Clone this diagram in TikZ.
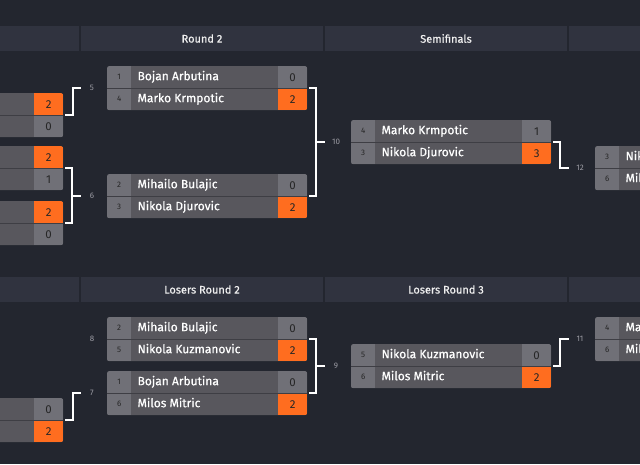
\documentclass[tikz,border=0pt]{standalone}
\usepackage{fontspec}
\setmainfont{Fira Sans}
\newfontfamily\namefont[FakeBold=0.6]{Fira Sans}
\usetikzlibrary{positioning}
\definecolor{bgcol}{HTML}{23262F}
\definecolor{headcol}{HTML}{30333F}
\definecolor{namecol}{HTML}{58575D}
\definecolor{seedcol}{HTML}{707077}
\definecolor{wincol}{HTML}{FF6D1F}
\definecolor{rulecol}{HTML}{3E3E44}
\definecolor{numcol}{HTML}{9C9CA4}
\tikzset{
    matchframe/.style={rectangle,fill=namecol,rounded corners=2.5pt,minimum width=200pt,minimum height=44pt,inner sep=0pt,anchor=north west},
    seedcell/.style={rectangle,fill=seedcol,minimum width=24pt,minimum height=22pt,inner sep=0pt,text=black!85,font=\fontsize{8}{8}\selectfont},
    namecell/.style={inner xsep=6pt,inner ysep=0pt,text height=8.5pt,text depth=2.5pt,text=white,font=\namefont\fontsize{12}{12}\selectfont},
    scorecell/.style={rectangle,fill=seedcol,minimum width=29pt,minimum height=22pt,inner sep=0pt,text=black!85,font=\fontsize{11.5}{11.5}\selectfont},
    wincell/.style={scorecell,fill=wincol},
    headcell/.style={rectangle,fill=headcol,minimum width=242pt,minimum height=25pt,inner sep=0pt,text=white!94!black,font=\namefont\fontsize{11}{11}\selectfont},
    bracket/.style={-,draw=white,line width=2pt},
    matchno/.style={inner sep=0pt,text=numcol,font=\fontsize{8}{8}\selectfont},
    rowline/.style={draw=rulecol,line width=1pt},
}
% \matchbox{name}{top left}{seed}{player}{score}{seed}{player}{score}{winning row}
\newcommand{\matchbox}[9]{%
    \ifnum#9=1 \tikzset{topscore/.style=wincell,botscore/.style=scorecell}%
    \else\ifnum#9=2 \tikzset{topscore/.style=scorecell,botscore/.style=wincell}%
    \else\tikzset{topscore/.style=scorecell,botscore/.style=scorecell}\fi\fi
    \node[matchframe] (#1) at (#2) {};
    \begin{scope}
        \clip[rounded corners=2.5pt] (#1.north west) rectangle (#1.south east);
        \node[seedcell,anchor=north west] (#1s1) at (#1.north west) {#3};
        \node[namecell,right=0pt of #1s1] (#1n1) {#4};
        \node[topscore,anchor=north east] (#1c1) at (#1.north east) {#5};
        \node[seedcell,anchor=south west] (#1s2) at (#1.south west) {#6};
        \node[namecell,right=0pt of #1s2] (#1n2) {#7};
        \node[botscore,anchor=south east] (#1c2) at (#1.south east) {#8};
        \draw[rowline] (#1.west) -- (#1.east);
    \end{scope}
}

\begin{document}
\begin{tikzpicture}[x=1pt,y=-1pt]
    \clip (0,0) rectangle (640,464);
    \fill[bgcol] (0,0) rectangle (640,464);

    % column headers
    \node[headcell] (h0) at (-42,38.5) {};
    \node[headcell] (h1) at (202,38.5) {Round 2};
    \node[headcell] (h2) at (446,38.5) {Semifinals};
    \node[headcell] (h3) at (690,38.5) {};
    \node[headcell] (g0) at (-42,289.5) {};
    \node[headcell] (g1) at (202,289.5) {Losers Round 2};
    \node[headcell] (g2) at (446,289.5) {Losers Round 3};
    \node[headcell] (g3) at (690,289.5) {};

    % winners bracket
    \matchbox{L1}{-137,93}{}{}{2}{}{}{0}{1}
    \matchbox{L2}{-137,146}{}{}{2}{}{}{1}{1}
    \matchbox{L3}{-137,201}{}{}{2}{}{}{0}{1}
    \matchbox{m5}{107,66}{1}{Bojan Arbutina}{0}{4}{Marko Krmpotic}{2}{2}
    \matchbox{m6}{107,174}{2}{Mihailo Bulajic}{0}{3}{Nikola Djurovic}{2}{2}
    \matchbox{m10}{351,120}{4}{Marko Krmpotic}{1}{3}{Nikola Djurovic}{3}{2}
    \matchbox{m12}{595,146}{3}{Nikola Djurovic}{}{6}{Milos Mitric}{}{0}

    % losers bracket
    \matchbox{L4}{-137,398}{}{}{0}{}{}{2}{2}
    \matchbox{m8}{107,317}{2}{Mihailo Bulajic}{0}{5}{Nikola Kuzmanovic}{2}{2}
    \matchbox{m7}{107,371}{1}{Bojan Arbutina}{0}{6}{Milos Mitric}{2}{2}
    \matchbox{m9}{351,344}{5}{Nikola Kuzmanovic}{0}{6}{Milos Mitric}{2}{2}
    \matchbox{m11}{595,317}{4}{Marko Krmpotic}{}{6}{Milos Mitric}{}{0}

    % match numbers
    \node[matchno] (n5) at ([xshift=-15pt]m5.west) {5};
    \node[matchno] (n6) at ([xshift=-15pt]m6.west) {6};
    \node[matchno] (n10) at ([xshift=-15pt]m10.west) {10};
    \node[matchno] (n12) at ([xshift=-15pt]m12.west) {12};
    \node[matchno] (n8) at ([xshift=-15pt]m8.west) {8};
    \node[matchno] (n7) at ([xshift=-15pt]m7.west) {7};
    \node[matchno] (n9) at ([xshift=-15pt]m9.west) {9};
    \node[matchno] (n11) at ([xshift=-15pt]m11.west) {11};

    % brackets
    \draw[bracket] ([xshift=2pt]L1.east) -- ++(8,0) |- ([xshift=-26pt]m5.west);
    \draw[bracket] ([xshift=2pt]L2.east) -- ++(7,0) coordinate (v6) |- ([xshift=2pt]L3.east);
    \draw[bracket] (v6 |- m6.west) -- ([xshift=-26pt]m6.west);
    \draw[bracket] ([xshift=2pt]m5.east) -- ++(7,0) coordinate (v10) |- ([xshift=2pt]m6.east);
    \draw[bracket] (v10 |- m10.west) -- ([xshift=-26pt]m10.west);
    \draw[bracket] ([xshift=2pt]m10.east) -- ++(7,0) |- ([xshift=-26pt]m12.west);
    \draw[bracket] ([xshift=2pt]L4.east) -- ++(8,0) |- ([xshift=-26pt]m7.west);
    \draw[bracket] ([xshift=2pt]m8.east) -- ++(7,0) coordinate (v9) |- ([xshift=2pt]m7.east);
    \draw[bracket] (v9 |- m9.west) -- ([xshift=-26pt]m9.west);
    \draw[bracket] ([xshift=2pt]m9.east) -- ++(7,0) |- ([xshift=-26pt]m11.west);
\end{tikzpicture}
\end{document}
